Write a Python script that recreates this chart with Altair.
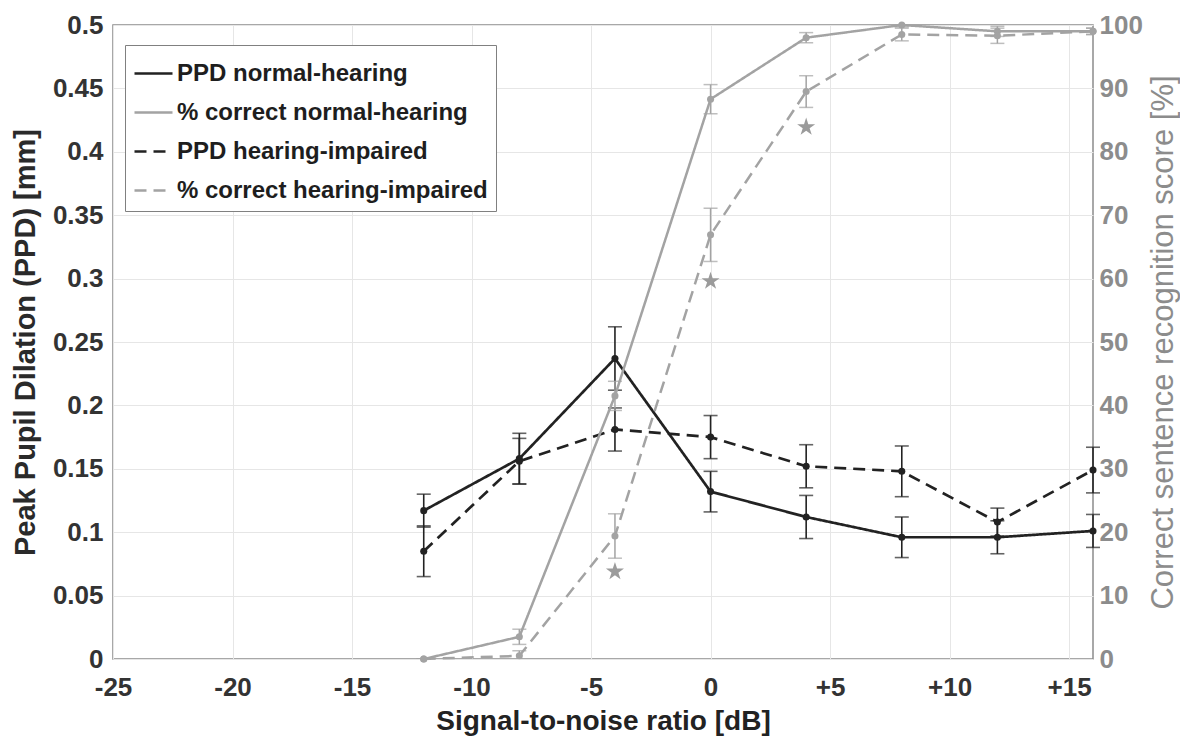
import altair as alt
import pandas as pd

# ---------------- data ----------------
snr = [-12, -8, -4, 0, 4, 8, 12, 16]

ppd_nh = [0.117, 0.158, 0.237, 0.132, 0.112, 0.096, 0.096, 0.101]
ppd_nh_err = [0.013, 0.020, 0.025, 0.016, 0.017, 0.016, 0.013, 0.013]
ppd_hi = [0.085, 0.156, 0.181, 0.175, 0.152, 0.148, 0.108, 0.149]
ppd_hi_err = [0.020, 0.018, 0.017, 0.017, 0.017, 0.020, 0.011, 0.018]

pct_nh = [0.0, 3.5, 41.5, 88.3, 98.0, 100.0, 99.0, 99.0]
pct_nh_err = [0.0, 1.2, 2.3, 2.3, 0.8, 0.3, 0.8, 0.5]
pct_hi = [0.0, 0.5, 19.4, 66.9, 89.5, 98.5, 98.3, 99.0]
pct_hi_err = [0.0, 0.8, 3.5, 4.2, 2.5, 1.0, 1.2, 0.5]

star_snr = [-4, 0, 4]
star_pct = [13.8, 59.6, 83.9]

series_names = ["PPD normal-hearing", "% correct normal-hearing",
                "PPD hearing-impaired", "% correct hearing-impaired"]
series_colors = ["#222222", "#a3a3a3", "#222222", "#a3a3a3"]
series_dash = [[1, 0], [1, 0], [12, 7], [12, 7]]

x_ticks = [-25, -20, -15, -10, -5, 0, 5, 10, 15]
ppd_ticks = [0, 0.05, 0.1, 0.15, 0.2, 0.25, 0.3, 0.35, 0.4, 0.45, 0.5]
pct_ticks = [0, 10, 20, 30, 40, 50, 60, 70, 80, 90, 100]


def frame(name, vals, errs):
    return pd.DataFrame({
        "snr": snr,
        "series": name,
        "val": vals,
        "lo": [v - e for v, e in zip(vals, errs)],
        "hi": [v + e for v, e in zip(vals, errs)],
    })


ppd_df = pd.concat([frame(series_names[0], ppd_nh, ppd_nh_err),
                    frame(series_names[2], ppd_hi, ppd_hi_err)], ignore_index=True)
pct_df = pd.concat([frame(series_names[1], pct_nh, pct_nh_err),
                    frame(series_names[3], pct_hi, pct_hi_err)], ignore_index=True)
star_df = pd.DataFrame({"snr": star_snr, "val": star_pct})

FONT = "Liberation Sans"
BLACK = "#222222"
GREY = "#a3a3a3"
GRID = "#e6e6e6"

# ---------------- scales & axes ----------------
x_scale = alt.Scale(domain=[-25, 16], nice=False, zero=False)
x_axis = alt.Axis(values=x_ticks,
                  labelExpr="datum.value > 0 ? '+' + datum.value : '' + datum.value",
                  title="Signal-to-noise ratio [dB]", grid=True, gridColor=GRID,
                  ticks=False, tickSize=0, domain=False, labelFlush=False,
                  labelOverlap=False, labelPadding=15, titlePadding=7,
                  labelFontSize=26, labelFontWeight="bold", labelColor="#333333",
                  titleFontSize=28, titleFontWeight="bold", titleColor="#222222")

y_left_scale = alt.Scale(domain=[0, 0.5], nice=False, zero=True)
y_left_axis = alt.Axis(values=ppd_ticks, format=".2~f", orient="left",
                       title="Peak Pupil Dilation (PPD) [mm]", grid=True,
                       gridColor=GRID, ticks=False, tickSize=0, domain=False,
                       labelFlush=False, labelOverlap=False, labelPadding=10,
                       titlePadding=12, labelFontSize=26, labelFontWeight="bold",
                       labelColor="#333333", titleFontSize=29,
                       titleFontWeight="bold", titleColor="#2a2a2a")

y_right_scale = alt.Scale(domain=[0, 100], nice=False, zero=True)
y_right_axis = alt.Axis(values=pct_ticks, format="d", orient="right",
                        title="Correct sentence recognition score [%]",
                        grid=False, ticks=False, tickSize=0, domain=False,
                        labelFlush=False, labelOverlap=False, labelPadding=6,
                        titlePadding=6, labelFontSize=26, labelFontWeight="bold",
                        labelColor="#8c8c8c", titleFontSize=31,
                        titleFontWeight="normal", titleColor="#8c8c8c",
                        titleAngle=270, titleBaseline="top")

X = alt.X("snr:Q", scale=x_scale, axis=x_axis)


def YL(field):
    return alt.Y(f"{field}:Q", scale=y_left_scale, axis=y_left_axis)


def YR(field):
    return alt.Y(f"{field}:Q", scale=y_right_scale, axis=y_right_axis)


legend = alt.Legend(title=None, orient="none", legendX=12, legendY=20,
                    direction="vertical", fillColor="white", strokeColor="#808080",
                    padding=8, symbolType="stroke", symbolSize=1444,
                    symbolStrokeWidth=2.5, labelFont=FONT, labelFontSize=24,
                    labelFontWeight="bold", labelColor="#1e1e1e", labelLimit=500,
                    rowPadding=6, labelOffset=3)

color_enc = alt.Color("series:N", scale=alt.Scale(domain=series_names, range=series_colors),
                      legend=legend)
dash_enc = alt.StrokeDash("series:N", scale=alt.Scale(domain=series_names, range=series_dash),
                          legend=legend)

# ---------------- PPD (left axis) ----------------
bp = alt.Chart(ppd_df)
ppd_lines = bp.mark_line(strokeWidth=2.7).encode(x=X, y=YL("val"), color=color_enc,
                                                  strokeDash=dash_enc)
ppd_rules = bp.mark_rule(strokeWidth=1.6, color=BLACK).encode(x=X, y=YL("lo"), y2="hi:Q")
ppd_cap_lo = bp.mark_tick(orient="horizontal", size=14, thickness=1.6, color=BLACK).encode(
    x=X, y=YL("lo"))
ppd_cap_hi = bp.mark_tick(orient="horizontal", size=14, thickness=1.6, color=BLACK).encode(
    x=X, y=YL("hi"))
ppd_pts = bp.mark_point(filled=True, size=50, opacity=1, color=BLACK).encode(x=X, y=YL("val"))
ppd_layer = alt.layer(ppd_lines, ppd_rules, ppd_cap_lo, ppd_cap_hi, ppd_pts)

# ---------------- % correct (right axis) ----------------
bc = alt.Chart(pct_df)
pct_lines = bc.mark_line(strokeWidth=2.5).encode(x=X, y=YR("val"), color=color_enc,
                                                  strokeDash=dash_enc)
pct_rules = bc.mark_rule(strokeWidth=1.5, color=GREY, clip=True).encode(
    x=X, y=YR("lo"), y2="hi:Q")
pct_cap_lo = bc.mark_tick(orient="horizontal", size=14, thickness=1.5, color=GREY,
                          clip=True).encode(x=X, y=YR("lo"))
pct_cap_hi = bc.mark_tick(orient="horizontal", size=14, thickness=1.5, color=GREY,
                          clip=True).encode(x=X, y=YR("hi"))
pct_pts = bc.mark_point(filled=True, size=50, opacity=1, color=GREY).encode(x=X, y=YR("val"))
star_path = ("M0,-1L0.2245,-0.309L0.951,-0.309L0.363,0.118L0.588,0.809L0,0.382"
             "L-0.588,0.809L-0.363,0.118L-0.951,-0.309L-0.2245,-0.309Z")
stars = alt.Chart(star_df).mark_point(shape=star_path, filled=True, size=360, opacity=1,
                                      color="#9b9b9b").encode(x=X, y=YR("val"))
pct_layer = alt.layer(pct_lines, pct_rules, pct_cap_lo, pct_cap_hi, pct_pts, stars)

chart = (
    alt.layer(ppd_layer, pct_layer)
    .resolve_scale(y="independent")
    .properties(width=980, height=634,
                padding={"left": 105, "top": 17, "right": 87, "bottom": 80},
                autosize=alt.AutoSizeParams(type="none"))
    .configure(font=FONT)
    .configure_view(stroke="#8c8c8c", strokeWidth=1.5)
    .configure_axis(labelFont=FONT, titleFont=FONT)
)

chart.save("out.html", embed_options={"renderer": "svg", "actions": False})
